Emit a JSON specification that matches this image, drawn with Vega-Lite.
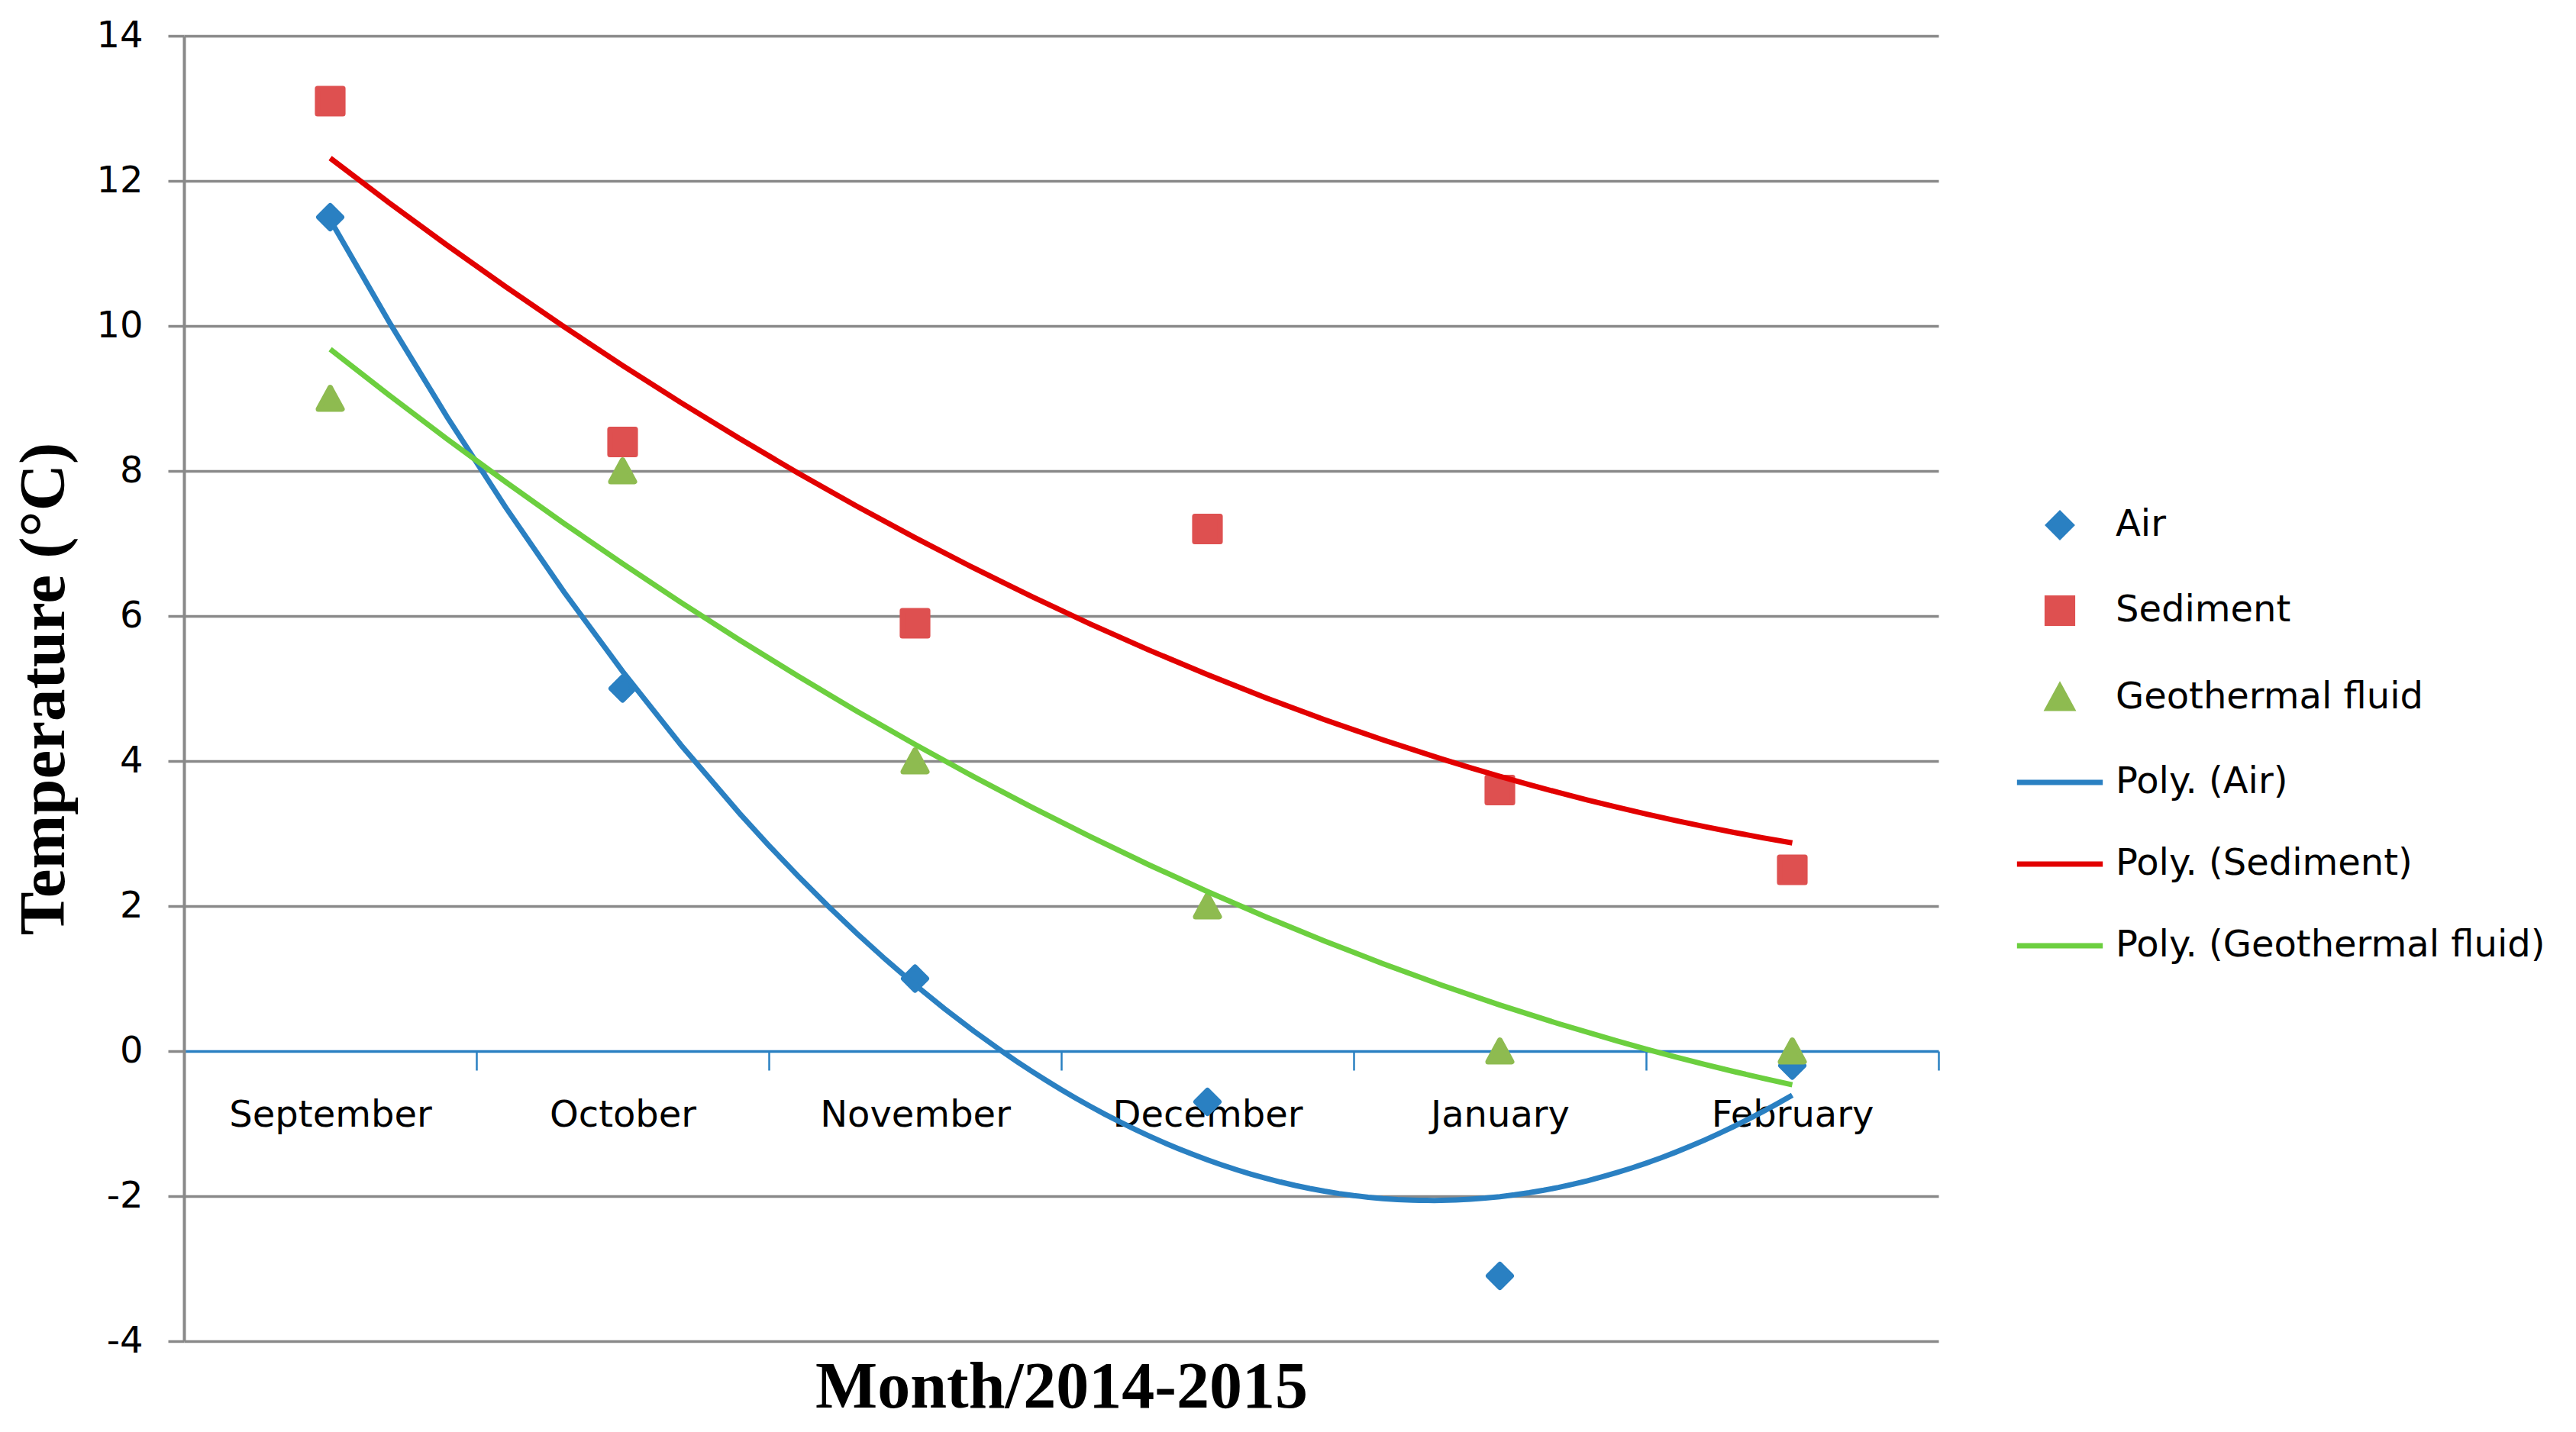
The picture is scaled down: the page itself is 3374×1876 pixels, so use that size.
{
  "$schema": "https://vega.github.io/schema/vega-lite/v6.json",
  "width": 2298,
  "height": 1710,
  "autosize": {"type": "none"},
  "padding": {"left": 241, "top": 47, "right": 835, "bottom": 119},
  "background": "#ffffff",
  "config": {"view": {"stroke": null}, "font": "DejaVu Sans"},
  "data": {
    "values": [
      {"month": 1, "monthName": "September", "series": "Air", "trend": "Poly. (Air)", "value": 11.5},
      {"month": 2, "monthName": "October", "series": "Air", "trend": "Poly. (Air)", "value": 5.0},
      {"month": 3, "monthName": "November", "series": "Air", "trend": "Poly. (Air)", "value": 1.0},
      {"month": 4, "monthName": "December", "series": "Air", "trend": "Poly. (Air)", "value": -0.7},
      {"month": 5, "monthName": "January", "series": "Air", "trend": "Poly. (Air)", "value": -3.1},
      {"month": 6, "monthName": "February", "series": "Air", "trend": "Poly. (Air)", "value": -0.2},
      {"month": 1, "monthName": "September", "series": "Sediment", "trend": "Poly. (Sediment)", "value": 13.1},
      {"month": 2, "monthName": "October", "series": "Sediment", "trend": "Poly. (Sediment)", "value": 8.4},
      {"month": 3, "monthName": "November", "series": "Sediment", "trend": "Poly. (Sediment)", "value": 5.9},
      {"month": 4, "monthName": "December", "series": "Sediment", "trend": "Poly. (Sediment)", "value": 7.2},
      {"month": 5, "monthName": "January", "series": "Sediment", "trend": "Poly. (Sediment)", "value": 3.6},
      {"month": 6, "monthName": "February", "series": "Sediment", "trend": "Poly. (Sediment)", "value": 2.5},
      {"month": 1, "monthName": "September", "series": "Geothermal fluid", "trend": "Poly. (Geothermal fluid)", "value": 9.0},
      {"month": 2, "monthName": "October", "series": "Geothermal fluid", "trend": "Poly. (Geothermal fluid)", "value": 8.0},
      {"month": 3, "monthName": "November", "series": "Geothermal fluid", "trend": "Poly. (Geothermal fluid)", "value": 4.0},
      {"month": 4, "monthName": "December", "series": "Geothermal fluid", "trend": "Poly. (Geothermal fluid)", "value": 2.0},
      {"month": 5, "monthName": "January", "series": "Geothermal fluid", "trend": "Poly. (Geothermal fluid)", "value": 0.0},
      {"month": 6, "monthName": "February", "series": "Geothermal fluid", "trend": "Poly. (Geothermal fluid)", "value": 0.0}
    ]
  },
  "encoding": {
    "x": {
      "field": "month",
      "type": "quantitative",
      "scale": {"domain": [0.5, 6.5], "nice": false, "zero": false},
      "axis": {
        "orient": "bottom",
        "offset": -380,
        "values": [0.5, 1, 1.5, 2, 2.5, 3, 3.5, 4, 4.5, 5, 5.5, 6, 6.5],
        "grid": false,
        "domainColor": "#2A80C2",
        "domainWidth": 3.7,
        "tickColor": "#2A80C2",
        "tickWidth": 2.5,
        "tickSize": 25,
        "tickOpacity": {"condition": {"test": "datum.value % 1 === 0", "value": 0}, "value": 1},
        "labelExpr": "datum.value === 1 ? 'September' : datum.value === 2 ? 'October' : datum.value === 3 ? 'November' : datum.value === 4 ? 'December' : datum.value === 5 ? 'January' : datum.value === 6 ? 'February' : ''",
        "labelFont": "DejaVu Sans",
        "labelFontSize": 48,
        "labelColor": "#000000",
        "labelPadding": 35,
        "labelLimit": 1000,
        "labelOverlap": false,
        "labelFlush": false,
        "labelBound": false,
        "title": "Month/2014-2015",
        "titleFont": "Liberation Serif",
        "titleFontWeight": "bold",
        "titleFontSize": 86,
        "titleColor": "#000000",
        "titleX": 1149,
        "titleY": 466,
        "titleAlign": "center",
        "titleBaseline": "alphabetic"
      }
    },
    "y": {
      "field": "value",
      "type": "quantitative",
      "scale": {"domain": [-4, 14], "nice": false, "zero": false},
      "axis": {
        "values": [-4, -2, 0, 2, 4, 6, 8, 10, 12, 14],
        "grid": true,
        "gridColor": "#898989",
        "gridWidth": 3.5,
        "gridOpacity": {"condition": {"test": "datum.value === 0", "value": 0}, "value": 1},
        "domainColor": "#898989",
        "domainWidth": 4,
        "tickColor": "#898989",
        "tickWidth": 3.5,
        "tickSize": 21,
        "labelExpr": "'' + datum.value",
        "labelFont": "DejaVu Sans",
        "labelFontSize": 48,
        "labelColor": "#000000",
        "labelPadding": 33,
        "title": "Temperature (°C)",
        "titleFont": "Liberation Serif",
        "titleFontWeight": "bold",
        "titleFontSize": 85,
        "titleColor": "#000000",
        "titleX": -158,
        "titleY": 855,
        "titleAngle": 270,
        "titleAlign": "center",
        "titleBaseline": "alphabetic"
      }
    }
  },
  "layer": [
    {
      "mark": {"type": "point", "filled": true, "size": 11449, "opacity": 1, "strokeWidth": 7, "strokeJoin": "round"},
      "encoding": {
        "fill": {
          "field": "series",
          "type": "nominal",
          "scale": {
            "domain": ["Air", "Sediment", "Geothermal fluid", "Poly. (Air)", "Poly. (Sediment)", "Poly. (Geothermal fluid)"],
            "range": ["#2A80C2", "#DE5050", "#8EBB50", "#2A80C2", "#E20000", "#6CCF3F"]
          },
          "legend": {
            "title": null,
            "orient": "none",
            "legendX": 2400,
            "legendY": 584,
            "symbolSize": 11449,
            "symbolStrokeWidth": 7,
            "labelFont": "DejaVu Sans",
            "labelFontSize": 48,
            "labelColor": "#000000",
            "labelLimit": 1000,
            "labelOffset": 16,
            "rowPadding": 26,
            "padding": 0,
            "symbolOpacity": 1
          }
        },
        "stroke": {
          "field": "series",
          "type": "nominal",
          "scale": {
            "domain": ["Air", "Sediment", "Geothermal fluid", "Poly. (Air)", "Poly. (Sediment)", "Poly. (Geothermal fluid)"],
            "range": ["#2A80C2", "#DE5050", "#8EBB50", "#2A80C2", "#E20000", "#6CCF3F"]
          }
        },
        "shape": {
          "field": "series",
          "type": "nominal",
          "scale": {
            "domain": ["Air", "Sediment", "Geothermal fluid", "Poly. (Air)", "Poly. (Sediment)", "Poly. (Geothermal fluid)"],
            "range": [
              "M0,-0.28L0.28,0L0,0.28L-0.28,0Z",
              "M-0.31,-0.31H0.31V0.31H-0.31Z",
              "M0,-0.27L0.29,0.26L-0.29,0.26Z",
              "M-1.05,0H1.05",
              "M-1.05,0H1.05",
              "M-1.05,0H1.05"
            ]
          }
        }
      }
    },
    {
      "transform": [
        {"regression": "value", "on": "month", "groupby": ["trend"], "method": "poly", "order": 2}
      ],
      "mark": {"type": "line", "strokeWidth": 7},
      "encoding": {
        "stroke": {
          "field": "trend",
          "type": "nominal",
          "legend": null
        }
      }
    }
  ]
}
